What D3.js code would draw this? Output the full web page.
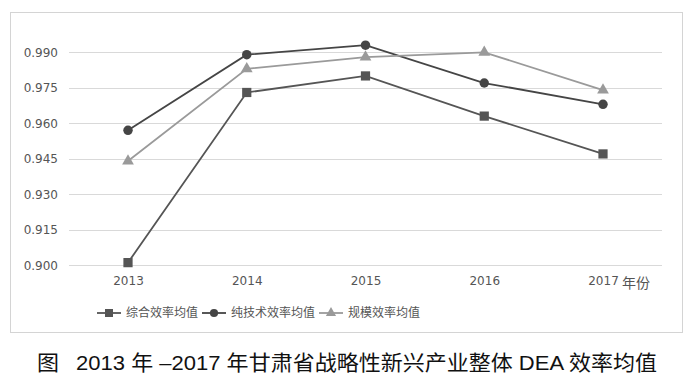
<!DOCTYPE html>
<html><head><meta charset="utf-8">
<script src="https://cdn.jsdelivr.net/npm/d3@7"></script>
<style>
body{margin:0;background:#fff;}
svg{display:block;}
</style></head>
<body>
<svg id="c" width="697" height="381"></svg>
<script>
const years = ["2013","2014","2015","2016","2017"];
const yTicks = [0.900,0.915,0.930,0.945,0.960,0.975,0.990];
const seriesNames = ["综合效率均值","纯技术效率均值","规模效率均值"];
const comprehensive = [0.901,0.973,0.980,0.963,0.947];
const pureTech = [0.957,0.989,0.993,0.977,0.968];
const scale = [0.944,0.983,0.988,0.990,0.974];
const xUnit = "年份";
const title = "图\u2002 2013 年 –2017 年甘肃省战略性新兴产业整体 DEA 效率均值";

const svg = d3.select("#c");
const font = "'Liberation Sans','Noto Sans CJK SC',sans-serif";
const axisFont = "'DejaVu Sans','Noto Sans CJK SC',sans-serif";

// chart border
svg.append("rect").attr("x",10.5).attr("y",12.5).attr("width",672).attr("height",320)
  .attr("fill","#fff").attr("stroke","#d4d4d4").attr("stroke-width",1);

const x = d3.scalePoint().domain(years).range([128,603]);
const y = d3.scaleLinear().domain([0.900,0.990]).range([265,52.3]);

// gridlines
svg.append("g").selectAll("line").data(yTicks).join("line")
  .attr("x1",69).attr("x2",662)
  .attr("y1",d=>Math.round(y(d))+0.5).attr("y2",d=>Math.round(y(d))+0.5)
  .attr("stroke","#d9d9d9").attr("stroke-width",1.2);

// y axis labels
const yAxis = d3.axisLeft(y).tickValues(yTicks).tickFormat(d3.format(".3f")).tickSize(0).tickPadding(0);
const yg = svg.append("g").attr("transform","translate(58,0)").call(yAxis);
yg.select(".domain").remove();
yg.selectAll("text").attr("font-family",axisFont).attr("font-size",12).attr("fill","#555").attr("dy","0.35em");

// x axis labels
const xAxis = d3.axisBottom(x).tickSize(0).tickPadding(0);
const xg = svg.append("g").attr("transform","translate(0,276)").call(xAxis);
xg.select(".domain").remove();
xg.selectAll("text").attr("font-family",axisFont).attr("font-size",12).attr("fill","#555").attr("dy","0.71em");
svg.append("text").attr("x",x("2017")+19).attr("y",288).attr("font-family",font)
  .attr("font-size",14).attr("fill","#555").text(xUnit);

const series = [
  {name:seriesNames[0], vals:comprehensive, color:"#555", marker:"square"},
  {name:seriesNames[1], vals:pureTech, color:"#454545", marker:"circle"},
  {name:seriesNames[2], vals:scale, color:"#9a9a9a", marker:"triangle"}
];
const symType = {square:d3.symbolSquare, circle:d3.symbolCircle, triangle:d3.symbolTriangle};
const symSize = {square:85, circle:70, triangle:60};

const line = d3.line().x((d,i)=>x(years[i])).y(d=>y(d));
series.forEach(s=>{
  svg.append("path").attr("d",line(s.vals)).attr("fill","none")
    .attr("stroke",s.color).attr("stroke-width",1.8);
  svg.append("g").selectAll("path").data(s.vals).join("path")
    .attr("transform",(d,i)=>`translate(${x(years[i])},${y(d)})`)
    .attr("d",d3.symbol().type(symType[s.marker]).size(symSize[s.marker]))
    .attr("fill",s.color);
});

// legend
const legX = [97,202,319];
const lg = svg.append("g");
series.forEach((s,i)=>{
  const g = lg.append("g").attr("transform",`translate(${legX[i]},313)`);
  g.append("line").attr("x1",0).attr("x2",24).attr("y1",0).attr("y2",0)
    .attr("stroke",s.color).attr("stroke-width",1.8);
  g.append("path").attr("transform","translate(12,0)")
    .attr("d",d3.symbol().type(symType[s.marker]).size(symSize[s.marker]*0.75))
    .attr("fill",s.color);
  g.append("text").attr("x",29).attr("y",0).attr("dy","0.35em")
    .attr("font-family",font).attr("font-size",12).attr("fill","#555").text(s.name);
});

// title
svg.append("text").attr("x",37).attr("y",370).attr("font-family",font)
  .attr("font-size",21).attr("fill","#111")
  .attr("textLength",620).attr("lengthAdjust","spacingAndGlyphs").text(title);
</script>
</body></html>
